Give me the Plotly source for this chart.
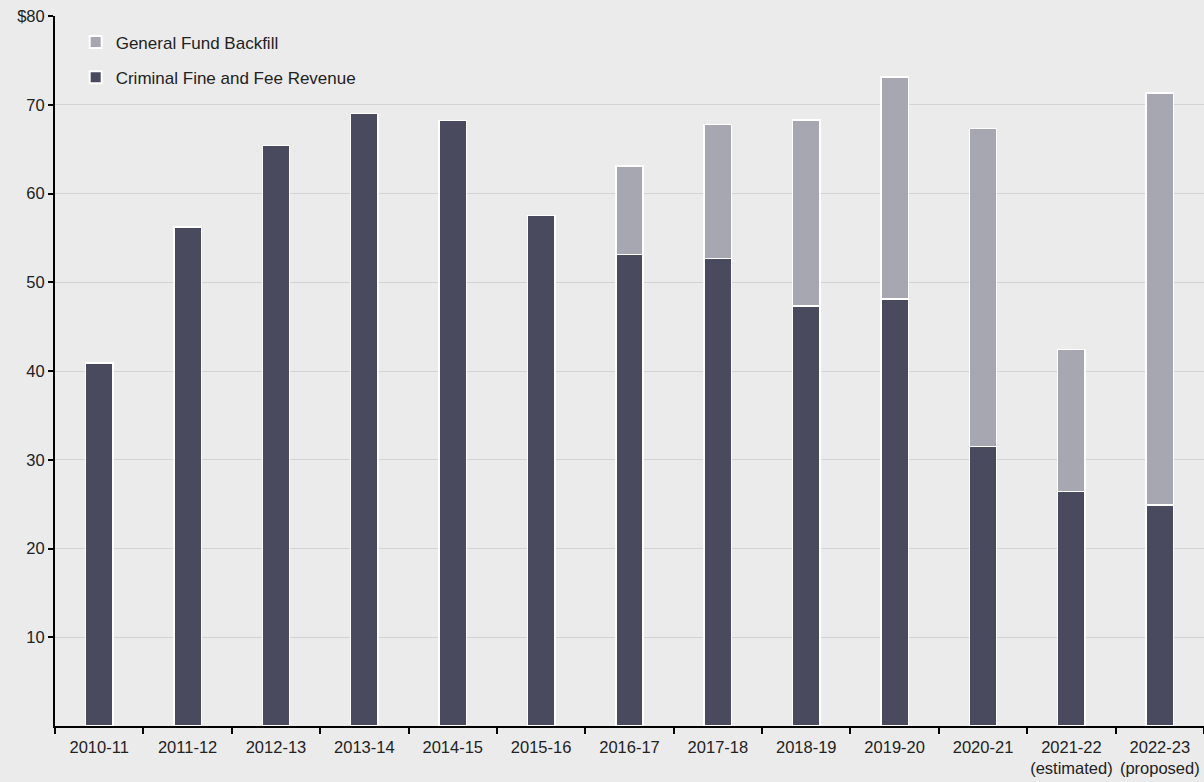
import plotly.graph_objects as go

years = ["2010-11", "2011-12", "2012-13", "2013-14", "2014-15", "2015-16", "2016-17",
         "2017-18", "2018-19", "2019-20", "2020-21", "2021-22<br>(estimated)", "2022-23<br>(proposed)"]
criminal = [40.9, 56.2, 65.4, 69.0, 68.2, 57.5, 53.1, 52.7, 47.3, 48.1, 31.5, 26.4, 24.9]
backfill = [0, 0, 0, 0, 0, 0, 10.0, 15.1, 21.0, 25.0, 35.8, 16.0, 46.4]
ytick_vals = [10, 20, 30, 40, 50, 60, 70, 80]
ytick_text = ["10", "20", "30", "40", "50", "60", "70", "$80"]

dark = "#4a4a5f"
light = "#a7a7b1"
bg = "#ebebeb"

fig = go.Figure()
fig.add_trace(go.Bar(x=years, y=criminal, name="Criminal Fine and Fee Revenue", legendgroup="a",
                     legendrank=2,
                     marker=dict(color=dark, line=dict(color="white", width=1.5))))
fig.add_trace(go.Bar(x=years, y=[b if b > 0 else None for b in backfill], name="General Fund Backfill",
                     legendgroup="b", legendrank=1,
                     marker=dict(color=light, line=dict(color="white", width=1.5))))

fig.update_layout(
    barmode="stack",
    bargap=0.69,
    width=1204, height=782,
    paper_bgcolor=bg, plot_bgcolor=bg,
    margin=dict(l=55, r=0, t=16, b=56, autoexpand=False),
    font=dict(family="Liberation Sans, Arial, sans-serif", size=16, color="#222"),
    legend=dict(x=0.018, y=0.988, xanchor="left", yanchor="top", traceorder="grouped",
                bgcolor="rgba(0,0,0,0)", font=dict(size=17), itemsizing="constant",
                tracegroupgap=10),
    showlegend=True,
)
fig.update_xaxes(type="category", showline=True, linecolor="black", linewidth=2, ticks="outside",
                 tickson="boundaries", ticklen=6, tickwidth=2, tickcolor="black", tickangle=0,
                 tickfont=dict(size=16.5), ticklabelstandoff=5,
                 showgrid=False, automargin=False)
fig.update_yaxes(range=[0, 80], tickvals=ytick_vals, ticktext=ytick_text,
                 showline=True, linecolor="black", linewidth=2, ticks="outside",
                 ticklen=5, tickwidth=1.5, tickcolor="black", automargin=False,
                 tickfont=dict(size=16.5),
                 showgrid=True, gridcolor="#d3d3d3", gridwidth=1, zeroline=False)

fig.write_html("out.html", config={"displayModeBar": False},
               post_script="document.body.style.margin='0';document.body.style.overflow='hidden';")
